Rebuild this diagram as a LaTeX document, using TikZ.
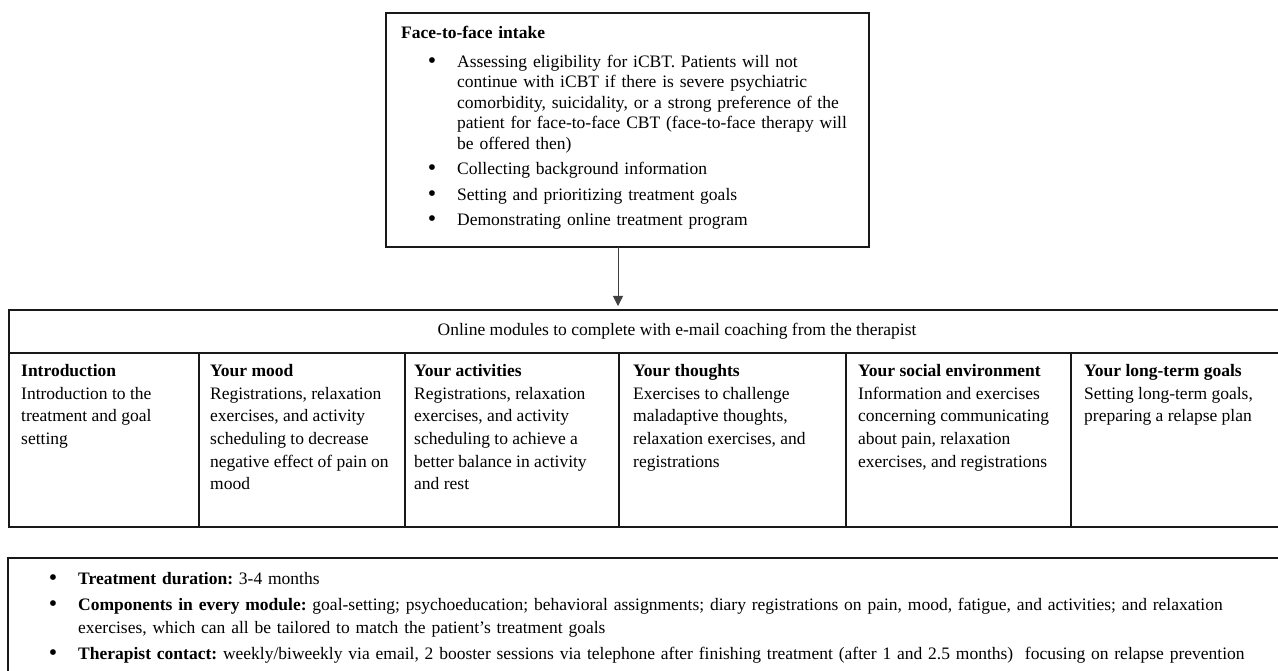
\documentclass[tikz,border=0pt]{standalone}
\usepackage{fontspec}
\setmainfont{Liberation Serif}
\usepackage{enumitem}
\usetikzlibrary{arrows.meta,positioning}
\frenchspacing
\newcommand{\bigdot}{{\fontsize{24}{24}\selectfont\raisebox{-1.2pt}{\textbullet}}}

\begin{document}
\begin{tikzpicture}[x=1pt,y=-1pt,
  box/.style={rectangle,draw=black!90,line width=1.2pt,anchor=north west,inner sep=0pt,outer sep=0pt},
  cell/.style={box,minimum height=174pt,minimum width=#1},
  txt/.style={anchor=north west,align=left,inner sep=0pt,font=\fontsize{17.5}{22.7}\selectfont},
  arr/.style={-{Triangle[length=10pt,width=10pt]},line width=0.8pt,draw=black!75,fill=black,shorten >=4pt}
]
\useasboundingbox (0,0) rectangle (1278,671);
\clip (0,0) rectangle (1278,671);

% intake
\node[box,line width=1.8pt,minimum width=483pt,minimum height=234pt] (intake) at (386,13) {};
\node[anchor=north west,inner sep=0pt,text width=460pt,font=\fontsize{17.5}{20.5}\selectfont] (intaketxt)
  at ([xshift=15pt,yshift=-13pt]intake.north west) {\raggedright
\textbf{Face-to-face intake}
\begin{itemize}[label=\bigdot,leftmargin=56pt,labelsep=21pt,topsep=8pt,partopsep=0pt,parsep=0pt,itemsep=5pt]
\item Assessing eligibility for iCBT. Patients will not\\
continue with iCBT if there is severe psychiatric\\
comorbidity, suicidality, or a strong preference of the\\
patient for face-to-face CBT (face-to-face therapy will\\
be offered then)
\item Collecting background information
\item Setting and prioritizing treatment goals
\item Demonstrating online treatment program
\end{itemize}};

% online modules
\node[box,minimum width=1336pt,minimum height=43pt,font=\fontsize{17.5}{21}\selectfont] (online) at (9,310)
  {Online modules to complete with e-mail coaching from the therapist};
\draw[arr] ([xshift=-9.5pt]intake.south) -- ([xshift=-9.5pt]intake.south |- online.north);

\node[cell=190pt] (intro) at (online.south west) {};
\node[cell=206pt,right=0pt of intro] (mood) {};
\node[cell=214pt,right=0pt of mood] (activ) {};
\node[cell=227pt,right=0pt of activ] (thoughts) {};
\node[cell=225pt,right=0pt of thoughts] (social) {};
\node[cell=274pt,right=0pt of social] (goals) {};

\node[txt] (introtxt) at ([xshift=12pt,yshift=-11pt]intro.north west)
  {\textbf{Introduction}\\Introduction to the\\treatment and goal\\setting};
\node[txt] (moodtxt) at ([xshift=11pt,yshift=-11pt]mood.north west)
  {\textbf{Your mood}\\Registrations, relaxation\\exercises, and activity\\scheduling to decrease\\negative effect of pain on\\mood};
\node[txt] (activtxt) at ([xshift=9pt,yshift=-11pt]activ.north west)
  {\textbf{Your activities}\\Registrations, relaxation\\exercises, and activity\\scheduling to achieve a\\better balance in activity\\and rest};
\node[txt] (thoughtstxt) at ([xshift=14pt,yshift=-11pt]thoughts.north west)
  {\textbf{Your thoughts}\\Exercises to challenge\\maladaptive thoughts,\\relaxation exercises, and\\registrations};
\node[txt] (socialtxt) at ([xshift=12pt,yshift=-11pt]social.north west)
  {\textbf{Your social environment}\\Information and exercises\\concerning communicating\\about pain, relaxation\\exercises, and registrations};
\node[txt] (goalstxt) at ([xshift=13pt,yshift=-11pt]goals.north west)
  {\textbf{Your long-term goals}\\Setting long-term goals,\\preparing a relapse plan};

% summary
\node[box,minimum width=1336pt,minimum height=140pt] (summary) at (8,558) {};
\node[anchor=north west,inner sep=0pt,text width=1300pt,font=\fontsize{17.5}{23}\selectfont] (summarytxt)
  at ([xshift=12pt,yshift=-3pt]summary.north west) {\raggedright
\begin{itemize}[label=\bigdot,leftmargin=58pt,labelsep=21pt,topsep=0pt,partopsep=0pt,parsep=0pt,itemsep=3pt]
\item \textbf{Treatment duration:} 3-4 months
\item \textbf{Components in every module:} goal-setting; psychoeducation; behavioral assignments; diary registrations on pain, mood, fatigue, and activities; and relaxation\\
exercises, which can all be tailored to match the patient’s treatment goals
\item \textbf{Therapist contact:} weekly/biweekly via email, 2 booster sessions via telephone after finishing treatment (after 1 and 2.5 months)\ \ focusing on relapse prevention
\end{itemize}};
\end{tikzpicture}
\end{document}
